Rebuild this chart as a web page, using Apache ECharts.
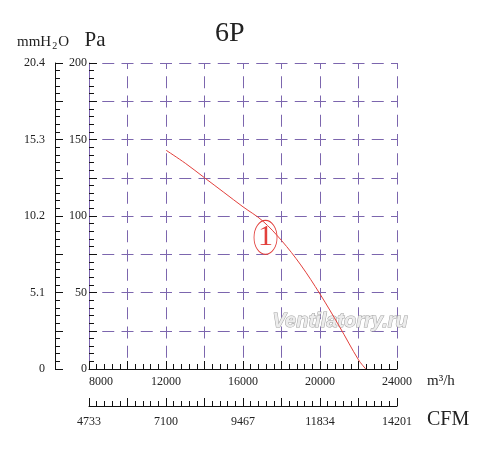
<!DOCTYPE html>
<html>
<head>
<meta charset="utf-8">
<script src="https://cdn.jsdelivr.net/npm/echarts@6/dist/echarts.min.js"></script>
<style>html,body{margin:0;padding:0;background:#fff;}#c{width:500px;height:450px;}</style>
</head>
<body>
<div id="c"></div>
<script>
// ---- data ----
const flow = [12000, 13000, 14000, 15000, 16000, 17000, 18000, 19000, 20000, 21000, 22000, 22380];
const pressure = [143, 134.5, 125, 115.5, 106, 97, 84, 68, 49, 28, 6, 0];
const flowTicks = [8000, 12000, 16000, 20000, 24000];
const cfmLabels = ['4733', '7100', '9467', '11834', '14201'];
const paTicks = [0, 50, 100, 150, 200];
const mmLabels = ['0', '5.1', '10.2', '15.3', '20.4'];
const curveName = '1';
const markerAt = [17170, 86];

const SERIF = "'Liberation Serif', 'DejaVu Serif', serif";
const GRIDC = '#7c66ae';
const RED = '#e2403c';

function mapLabel(ticks, labels) {
  return function (v) {
    const i = ticks.indexOf(v);
    return i >= 0 ? labels[i] : '';
  };
}

const chart = echarts.init(document.getElementById('c'), null, {renderer: 'canvas'});
chart.setOption({
  backgroundColor: '#fff',
  animation: false,
  title: {
    text: '6P', left: 215, top: 20, padding: 0,
    textStyle: {fontFamily: SERIF, fontSize: 28, fontWeight: 'normal', color: '#222'}
  },
  grid: {left: 89, right: 103, top: 63, bottom: 81, containLabel: false, outerBoundsMode: 'none'},
  xAxis: [{
    type: 'value', min: 8000, max: 24000, interval: 2000, position: 'bottom',
    name: 'm³/h', nameLocation: 'end', nameGap: 30,
    nameTextStyle: {fontFamily: SERIF, fontSize: 15, color: '#222', verticalAlign: 'top', padding: [5, 0, 0, 0]},
    axisLine: {show: true, onZero: false, lineStyle: {color: '#111', width: 1}},
    axisTick: {show: true, inside: true, length: 8, lineStyle: {color: '#111'}},
    minorTick: {show: true, splitNumber: 5, length: 5, lineStyle: {color: '#111'}},
    axisLabel: {show: true, margin: 7, fontFamily: SERIF, fontSize: 12, color: '#222',
      alignMinLabel: 'left', formatter: mapLabel(flowTicks, flowTicks.map(String))},
    splitLine: {show: true, showMinLine: false, lineStyle: {color: GRIDC, width: 1, type: [12, 7.25], dashOffset: 6}}
  }, {
    type: 'value', min: 8000, max: 24000, interval: 2000, position: 'bottom', offset: 37,
    name: 'CFM', nameLocation: 'end', nameGap: 30,
    nameTextStyle: {fontFamily: SERIF, fontSize: 20, color: '#222', verticalAlign: 'top', padding: [4, 0, 0, 0]},
    axisLine: {show: true, onZero: false, lineStyle: {color: '#111', width: 1}},
    axisTick: {show: true, inside: true, length: 8, lineStyle: {color: '#111'}},
    minorTick: {show: true, splitNumber: 5, length: 5, lineStyle: {color: '#111'}},
    axisLabel: {show: true, margin: 10, fontFamily: SERIF, fontSize: 12, color: '#222',
      formatter: mapLabel(flowTicks, cfmLabels)},
    splitLine: {show: false}
  }],
  yAxis: [{
    type: 'value', min: 0, max: 200, interval: 25, position: 'left',
    name: 'Pa', nameLocation: 'end', nameGap: 12,
    nameTextStyle: {fontFamily: SERIF, fontSize: 21, color: '#222', padding: [0, 0, 0, 12]},
    axisLine: {show: true, onZero: false, lineStyle: {color: GRIDC, width: 1}},
    axisTick: {show: true, inside: true, length: 8, lineStyle: {color: '#111'}},
    minorTick: {show: true, splitNumber: 5, length: 5, lineStyle: {color: '#111'}},
    axisLabel: {show: true, margin: 2, fontFamily: SERIF, fontSize: 12, color: '#222',
      formatter: mapLabel(paTicks, paTicks.map(String))},
    splitLine: {show: true, showMinLine: false, lineStyle: {color: GRIDC, width: 1, type: [12, 7.25], dashOffset: 6}}
  }, {
    type: 'value', min: 0, max: 200, interval: 25, position: 'left', offset: 34,
    name: 'mmH{sub|2}O', nameLocation: 'end', nameGap: 12,
    nameTextStyle: {fontFamily: SERIF, fontSize: 15, color: '#222', padding: [0, 24, 0, 0],
      rich: {sub: {fontFamily: SERIF, fontSize: 10, color: '#222', verticalAlign: 'bottom', padding: [8, 1, 0, 1]}}},
    axisLine: {show: true, onZero: false, lineStyle: {color: '#111', width: 1}},
    axisTick: {show: true, inside: true, length: 8, lineStyle: {color: '#111'}},
    minorTick: {show: true, splitNumber: 5, length: 5, lineStyle: {color: '#111'}},
    axisLabel: {show: true, margin: 10, fontFamily: SERIF, fontSize: 12, color: '#222',
      formatter: mapLabel(paTicks, mmLabels)},
    splitLine: {show: false}
  }],
  graphic: [{
    type: 'text', left: 272, top: 311, z: 1, silent: true,
    style: {text: 'Ventilatorry.ru', fontFamily: "'Liberation Sans', Arial, sans-serif", fontSize: 20,
      fontStyle: 'italic', fontWeight: 'bold', fill: '#ececec', stroke: '#a0a0a0', lineWidth: 1}
  }],
  series: [{
    type: 'line', name: curveName, xAxisIndex: 0, yAxisIndex: 0, z: 5,
    data: flow.map((q, i) => [q, pressure[i]]),
    smooth: 0.35, showSymbol: false,
    lineStyle: {color: RED, width: 1},
    markPoint: {
      silent: true,
      data: [{
        coord: markerAt, symbol: 'circle', symbolSize: [23, 34],
        itemStyle: {color: 'rgba(0,0,0,0)', borderColor: RED, borderWidth: 1},
        label: {show: true, position: 'inside', formatter: curveName, fontFamily: SERIF, fontSize: 30, color: RED}
      }]
    }
  }]
});
</script>
</body>
</html>
